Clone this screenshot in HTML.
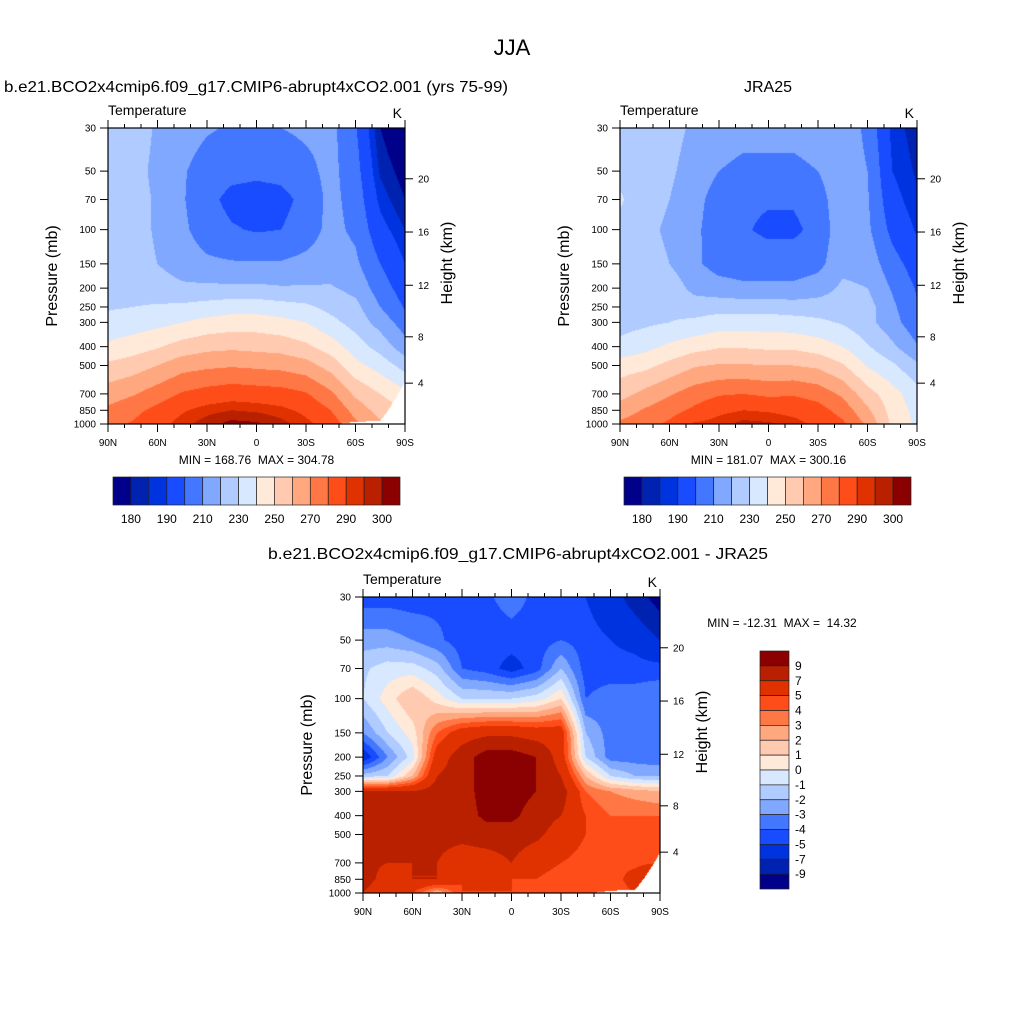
<!DOCTYPE html>
<html><head><meta charset="utf-8">
<style>
html,body{margin:0;padding:0;background:#fff;}
#root{position:relative;width:1024px;height:1024px;overflow:hidden;background:#fff;font-family:"Liberation Sans",Arial,sans-serif;}
canvas{position:absolute;}
svg{position:absolute;left:0;top:0;}
text{white-space:pre;}
</style></head>
<body>
<div id="root">
<canvas id="c1" width="297" height="296" style="left:108px;top:128px"></canvas>
<canvas id="c2" width="297" height="296" style="left:620px;top:128px"></canvas>
<canvas id="c3" width="297" height="296" style="left:363px;top:597px"></canvas>
<svg id="ov" width="1024" height="1024" xmlns="http://www.w3.org/2000/svg"></svg>
</div>
<script>
// ---- data ----
const lats = [90,75,60,45,30,15,0,-15,-30,-45,-60,-75,-90];
const plev = [1000,850,700,500,400,300,250,200,150,100,70,50,30];
const modelT = [
 [277,281,287,293,298,302,301,297,292,286,272,262,256],
 [272,277,283,289,293,295,294,292,288,280,266,256,250],
 [265,269,275,281,284,286,285,284,281,272,258,250,243],
 [252,255,260,266,268,269,268,267,264,256,243,236,226],
 [242,245,249,254,257,258,257,256,252,245,235,226,214],
 [233,235,237,240,243,245,245,243,240,233,226,216,205],
 [229,230,231,232,234,236,236,234,232,227,223,210,199],
 [226,226,225,222,222,222,222,221,221,221,217,205,195],
 [224,223,220,215,212,211,211,211,213,215,212,200,190],
 [224,223,219,212,205,201,199,200,205,213,208,193,185],
 [224,223,219,211,203,197,196,197,203,213,206,188,180],
 [224,223,218,211,206,203,202,203,207,213,204,184,177],
 [225,224,219,214,211,209,209,210,212,213,201,180,172]
];
const jraT = [
 [272,276,282,291,293,297,296,293,288,282,268,248,238],
 [265,271,276,282,288,290,289,287,284,276,262,246,237],
 [256,263,269,275,279,280,278,279,276,268,254,244,234],
 [245,247,253,259,261,261,260,260,258,251,239,232,222],
 [233,237,242,246,249,249,248,248,245,240,231,222,211],
 [226,228,230,232,235,235,235,234,232,229,223,214,203],
 [227,228,228,225,226,226,226,225,225,225,224,212,201],
 [228,228,226,217,214,212,212,212,215,222,220,209,199],
 [227,225,220,212,206,205,205,205,207,217,216,204,195],
 [228,223,218,212,205,201,198,198,203,217,212,197,189],
 [231,225,220,213,206,202,201,201,205,218,211,193,186],
 [228,226,222,215,210,207,207,207,210,218,210,190,184],
 [229,228,224,218,216,214,214,214,216,218,207,188,182]
];
const diffT = [
 [7,5,5,2,5,5,5,4,4,4,4,5,9],
 [8,6,7,7,5,5,5,5,4.5,4,4,6,9.5],
 [7.5,7,7,7,6,6,7,5.5,5,4.5,4.5,4.5,5],
 [7.5,8,7.5,7.5,7.5,8,8,7.5,6,5,4.5,4,4],
 [8,8,7.5,8,8,9.5,9.5,8,7,5,4,4,4],
 [7,7,7,8,8,10,10,9,8,4,3,2.5,2],
 [-1.5,-1,2,7,8,10,10,9,7,2,-1,-2,-2],
 [-6,-3,-0.5,6,8,10,10,9,6,-1,-3.5,-3.5,-3.8],
 [-3,-1,0.5,4,6,6.5,6.5,6,6,-2,-3.5,-3.3,-3.7],
 [-1,0.5,2,0.5,-1,-1,-1,-0.5,1,-4,-3.5,-3.5,-3.2],
 [-1.2,-0.5,-0.5,-1.5,-4,-4.5,-5.5,-4.5,-2,-4.5,-4.5,-4.5,-4.5],
 [-2.5,-2.5,-3,-3.8,-4.5,-4.5,-4.5,-4.5,-4,-4.5,-5,-5.5,-7],
 [-4.5,-4.5,-4.6,-4.3,-4,-4.2,-3.5,-4.3,-4.5,-5,-6,-8,-10]
];
const modelPs = [1100,1100,1100,1100,1100,1100,1100,1100,1100,1010,975,965,600];
const jraPs   = [1100,1100,1100,1100,1100,1100,1100,1100,1100,1100,1100,1100,1100];
const diffPs  = [1100,1100,1100,1100,1100,1100,1100,1100,1100,1010,975,960,620];
const tempLevels = [180,185,190,200,210,220,230,240,250,260,270,280,290,295,300];
const tempLabels = ["180","190","210","230","250","270","290","300"];
const diffLevels = [-9,-7,-5,-4,-3,-2,-1,0,1,2,3,4,5,7,9];
const palette = ["#00008a","#0022b0","#0033e0","#1a4cff","#4477ff","#80a8ff","#b0cbff","#d8e8ff",
 "#ffe9d9","#ffcab0","#ffa880","#ff7744","#ff4d1a","#e03200","#b82000","#8b0000"];
const pressTicks = [1000,850,700,500,400,300,250,200,150,100,70,50,30];
const heightTicks = [4,8,12,16,20];
const latTicks = [90,60,30,0,-30,-60,-90];
const latTickLabels = ["90N","60N","30N","0","30S","60S","90S"];

// ---- axes ----
const W=297,H=296,LP0=Math.log(30),LPR=Math.log(1000/30);
function yOfP(p){return (Math.log(p)-LP0)/LPR*H;}
function xOfLat(l){return (90-l)/180*W;}
function pOfZ(zkm){const z=zkm*1000;return z<11000?1013.25*Math.pow(1-2.25577e-5*z,5.25588):226.32*Math.exp(-(z-11000)/6341.6);}
function hexRgb(h){return [parseInt(h.substr(1,2),16),parseInt(h.substr(3,2),16),parseInt(h.substr(5,2),16)];}
const palRgb = palette.map(hexRgb);

function sample(grid,lat,p){
  let fi=(90-lat)/15; let i0=Math.max(0,Math.min(11,Math.floor(fi))); let ti=fi-i0;
  let lp=Math.log(p); let j0=0;
  for(let j=0;j<plev.length-1;j++){ if(lp<=Math.log(plev[j]) && lp>=Math.log(plev[j+1])){j0=j;break;} if(j==plev.length-2) j0=j; }
  let a=Math.log(plev[j0]),b=Math.log(plev[j0+1]); let tj=(a-lp)/(a-b); tj=Math.max(0,Math.min(1,tj));
  const v00=grid[j0][i0],v01=grid[j0][i0+1],v10=grid[j0+1][i0],v11=grid[j0+1][i0+1];
  return (v00*(1-ti)+v01*ti)*(1-tj)+(v10*(1-ti)+v11*ti)*tj;
}
function psAt(ps,lat){let fi=(90-lat)/15;let i0=Math.max(0,Math.min(11,Math.floor(fi)));let t=fi-i0;return ps[i0]*(1-t)+ps[i0+1]*t;}
function drawField(id,grid,levels,ps){
  const ctx=document.getElementById(id).getContext('2d');
  const img=ctx.createImageData(W,H);
  for(let y=0;y<H;y++){
    const p=Math.exp(LP0+(y+0.5)/H*LPR);
    for(let x=0;x<W;x++){
      const lat=90-(x+0.5)/W*180; const k=(y*W+x)*4;
      let c;
      if(p>psAt(ps,lat)) c=[255,255,255];
      else{ const v=sample(grid,lat,p); let n=0; while(n<levels.length && v>=levels[n]) n++; c=palRgb[n]; }
      img.data[k]=c[0];img.data[k+1]=c[1];img.data[k+2]=c[2];img.data[k+3]=255;
    }
  }
  ctx.putImageData(img,0,0);
}
drawField('c1',modelT,tempLevels,modelPs);
drawField('c2',jraT,tempLevels,jraPs);
drawField('c3',diffT,diffLevels,diffPs);

// ---- annotations ----
const svg=document.getElementById('ov'); const NS="http://www.w3.org/2000/svg";
function el(tag,attrs,parent){const e=document.createElementNS(NS,tag);for(const k in attrs)e.setAttribute(k,attrs[k]);(parent||svg).appendChild(e);return e;}
function txt(s,x,y,size,anchor,parent,extra){const t=el('text',Object.assign({x:x,y:y,'font-size':size,'text-anchor':anchor||'start','font-family':'Liberation Sans, Arial, sans-serif',fill:'#000'},extra||{}),parent);t.textContent=s;return t;}

function panel(x0,y0,name,minmax){
  const g=el('g',{});
  
  
  el('rect',{x:x0,y:y0,width:W,height:H,fill:'none',stroke:'#000','stroke-width':1.2},g);
  for(let l=90;l>=-90;l-=10){
    const x=x0+xOfLat(l); const major=(l%30===0); const len=major?8:4;
    el('line',{x1:x,y1:y0,x2:x,y2:y0-len,stroke:'#000','stroke-width':1},g);
    el('line',{x1:x,y1:y0+H,x2:x,y2:y0+H+len,stroke:'#000','stroke-width':1},g);
  }
  latTicks.forEach((l,i)=>{const t=txt(latTickLabels[i],x0+xOfLat(l),y0+H+22,10,'middle',g);
    
    });
  pressTicks.forEach(p=>{const y=y0+yOfP(p);
    el('line',{x1:x0,y1:y,x2:x0-8,y2:y,stroke:'#000','stroke-width':1},g);
    const t=txt(String(p),x0-12,y+3.5,10,'end',g);
    
    });
  heightTicks.forEach(z=>{const y=y0+yOfP(pOfZ(z));
    el('line',{x1:x0+W,y1:y,x2:x0+W+8,y2:y,stroke:'#000','stroke-width':1},g);
    const t=txt(String(z),x0+W+13,y+3.5,10,'start',g);
    
    });
  const pl=txt('Pressure (mb)',0,0,16,'middle',g,{transform:`translate(${x0-51},${y0+H/2}) rotate(-90)`});
  
  
  const hl=txt('Height (km)',0,0,16,'middle',g,{transform:`translate(${x0+W+47},${y0+135}) rotate(-90)`});
  
  
  const tl=txt('Temperature',x0,y0-13,14,'start',g);
  
  
  const kl=txt('K',x0+W-3,y0-10,14,'end',g);
  
  
  if(minmax){const m=txt(minmax,x0+W/2,y0+H+40,12,'middle',g);
    
    }
}
panel(108,128,'model-panel','MIN = 168.76  MAX = 304.78');
panel(620,128,'jra-panel','MIN = 181.07  MAX = 300.16');
panel(363,597,'difference-panel',null);

const t0=txt('JJA',512,55,22,'middle');


const t1=txt('b.e21.BCO2x4cmip6.f09_g17.CMIP6-abrupt4xCO2.001 (yrs 75-99)',4,92,16,'start',null,{textLength:504,lengthAdjust:'spacingAndGlyphs'});


const t2=txt('JRA25',768,92,16,'middle');


const t3=txt('b.e21.BCO2x4cmip6.f09_g17.CMIP6-abrupt4xCO2.001 - JRA25',268,559,16,'start',null,{textLength:500,lengthAdjust:'spacingAndGlyphs'});


const t4=txt('MIN = -12.31  MAX =  14.32',782,627,12,'middle');



// horizontal colorbars
function hbar(x0,y0,name){
  const g=el('g',{});
  
  
  const bw=287/palette.length;
  palette.forEach((c,i)=>{const r=el('rect',{x:x0+i*bw,y:y0,width:bw,height:28,fill:c,stroke:'#222','stroke-width':0.7},g);
    
    });
  tempLabels.forEach((s,k)=>{const t=txt(s,x0+(2*k+1)*bw,y0+46,12,'middle',g);
    
    });
}
hbar(113,477,'model-colorbar');
hbar(624,477,'jra-colorbar');
// vertical colorbar
(function(){
  const g=el('g',{});
  
  
  const x0=760,y0=651,bh=238/palette.length;
  palette.slice().reverse().forEach((c,i)=>{const r=el('rect',{x:x0,y:y0+i*bh,width:29,height:bh,fill:c,stroke:'#222','stroke-width':0.7},g);
    
    });
  diffLevels.slice().reverse().forEach((v,i)=>{const t=txt(String(v),x0+35,y0+(i+1)*bh+4,12,'start',g);
    
    });
})();
</script>
</body></html>
